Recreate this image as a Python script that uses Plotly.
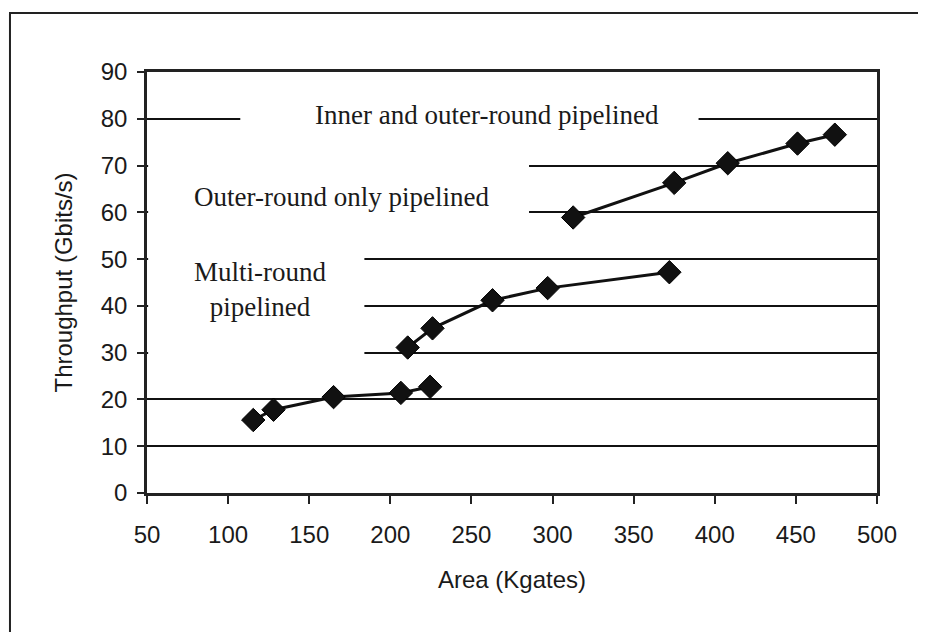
import plotly.graph_objects as go

# Data
area_multi = [115.5, 128, 165, 206.5, 224.5]
tput_multi = [15.6, 17.8, 20.5, 21.4, 22.7]

area_outer = [210.7, 226, 263, 297, 372]
tput_outer = [31.1, 35.2, 41.2, 43.8, 47.2]

area_inner = [312.7, 375, 408, 451, 474]
tput_inner = [58.9, 66.3, 70.5, 74.7, 76.6]

x_ticks = [50, 100, 150, 200, 250, 300, 350, 400, 450, 500]
y_ticks = [0, 10, 20, 30, 40, 50, 60, 70, 80, 90]

label_inner = "Inner and outer-round pipelined"
label_outer = "Outer-round only pipelined"
label_multi = "Multi-round<br>pipelined"

fig = go.Figure()
for xs, ys in [(area_multi, tput_multi), (area_outer, tput_outer), (area_inner, tput_inner)]:
    fig.add_trace(go.Scatter(
        x=xs, y=ys, mode="lines+markers",
        line=dict(color="#111111", width=3),
        marker=dict(symbol="diamond", size=18, color="#111111",
                    line=dict(color="#000000", width=1)),
        showlegend=False, hoverinfo="skip"))

# white label boxes masking the grid lines
boxes = [
    (107.5, 390, 75, 85),
    (50.7, 285.5, 55, 75),
    (50.7, 184, 25, 55),
]
shapes = []
for x0, x1, y0, y1 in boxes:
    shapes.append(dict(type="rect", xref="x", yref="y", x0=x0, x1=x1, y0=y0, y1=y1,
                       fillcolor="white", line=dict(width=0), layer="above"))
# outer frame of the figure
shapes.append(dict(type="rect", xref="paper", yref="paper",
                   x0=-0.1877, x1=1.3, y0=-0.5, y1=1.1401,
                   line=dict(color="#222222", width=2), fillcolor="rgba(0,0,0,0)",
                   layer="below"))

serif = dict(family="Liberation Serif", size=27, color="#1a1a1a")
annotations = [
    dict(x=259.5, y=80.9, text=label_inner, showarrow=False, font=serif, xref="x", yref="y"),
    dict(x=169.6, y=63.3, text=label_outer, showarrow=False, font=serif, xref="x", yref="y"),
    dict(x=119.8, y=43.6, text=label_multi, showarrow=False, font=serif, xref="x", yref="y"),
]

axis_font = dict(family="Liberation Sans", size=24, color="#1a1a1a")
fig.update_layout(
    width=926, height=632,
    margin=dict(l=139, r=57, t=64, b=147),
    paper_bgcolor="white", plot_bgcolor="white",
    shapes=shapes, annotations=annotations,
    font=axis_font,
    xaxis=dict(range=[50, 500], tickvals=x_ticks, ticks="outside", ticklen=8,
               tickwidth=2, tickcolor="#222", showgrid=False, zeroline=False,
               showline=True, linecolor="#222", linewidth=2.5, mirror=True,
               ticklabelstandoff=10,
               title=dict(text="Area (Kgates)", font=axis_font, standoff=25)),
    yaxis=dict(range=[0, 90], tickvals=y_ticks, ticks="outside", ticklen=7,
               tickwidth=2, tickcolor="#222", showgrid=True, gridcolor="#111",
               gridwidth=1.5, zeroline=False,
               showline=True, linecolor="#222", linewidth=2.5, mirror=True,
               ticklabelstandoff=5,
               title=dict(text="Throughput (Gbits/s)", font=axis_font, standoff=22)),
)

fig.write_html("out.html")
